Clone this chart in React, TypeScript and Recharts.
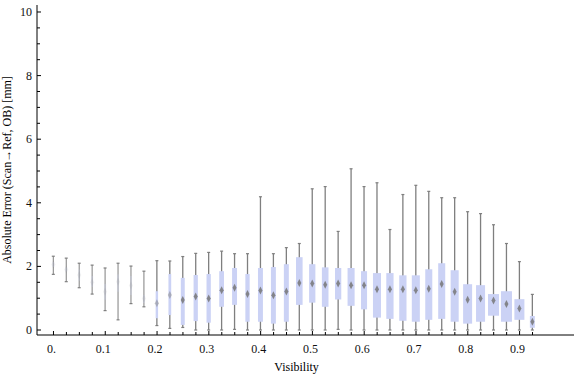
import { ComposedChart, Bar, XAxis, YAxis } from "recharts";

// box-whisker stats per visibility bin (mm)
const visibility = [
  0, 0.025, 0.05, 0.075, 0.1, 0.125, 0.15, 0.175, 0.2, 0.225, 0.25, 0.275, 0.3, 0.325, 0.35, 0.375, 0.4, 0.425, 0.45,
  0.475, 0.5, 0.525, 0.55, 0.575, 0.6, 0.625, 0.65, 0.675, 0.7, 0.725, 0.75, 0.775, 0.8, 0.825, 0.85, 0.875, 0.9, 0.925,
];
const minVals = [
  1.75, 1.52, 1.33, 1.13, 0.61, 0.32, 0.83, 0.73, 0.14, 0.05, 0.08, 0, 0, 0, 0.02, 0, 0, 0, 0, 0, 0, 0, 0.02, 0, 0, 0, 0,
  0, 0, 0, 0, 0, 0, 0, 0, 0, 0, 0,
];
const q1Vals = [
  1.98, 1.84, 1.55, 1.36, 0.95, 1.2, 1.1, 0.85, 0.37, 0.47, 0.16, 0.28, 0.23, 0.73, 0.79, 0.26, 0.26, 0.2, 0.26, 0.79,
  0.86, 0.73, 0.96, 0.76, 0.65, 0.39, 0.35, 0.29, 0.26, 0.32, 0.35, 0.26, 0.2, 0.26, 0.45, 0.26, 0.32, 0.07,
];
const medianVals = [
  2.06, 1.9, 1.73, 1.5, 1.2, 1.52, 1.4, 0.99, 0.84, 1.1, 0.94, 1.05, 0.99, 1.25, 1.33, 1.13, 1.24, 1.09, 1.21, 1.48,
  1.46, 1.42, 1.46, 1.41, 1.41, 1.28, 1.28, 1.28, 1.25, 1.3, 1.45, 1.2, 0.95, 0.99, 0.93, 0.82, 0.68, 0.26,
];
const q3Vals = [
  2.14, 1.97, 1.9, 1.7, 1.45, 1.75, 1.7, 1.1, 1.22, 1.76, 1.64, 1.73, 1.76, 1.85, 1.95, 1.76, 1.95, 1.98, 2.07, 2.29,
  2.07, 1.97, 1.95, 1.95, 1.85, 1.79, 1.79, 1.72, 1.72, 1.91, 2.1, 1.88, 1.44, 1.41, 1.13, 1.22, 0.97, 0.44,
];
const maxVals = [
  2.32, 2.26, 2.1, 2.04, 1.95, 2.1, 2.01, 1.85, 2.18, 2.17, 2.31, 2.41, 2.44, 2.48, 2.4, 2.4, 4.19, 2.4, 2.59, 2.72, 4.44,
  4.51, 3.1, 5.07, 4.51, 4.63, 3.16, 4.26, 4.55, 4.36, 4.16, 4.16, 3.72, 3.66, 3.31, 2.72, 2.15, 1.12,
];
// relative sample weight of each bin (drives box width / opacity)
const weights = [
  0.15, 0.15, 0.15, 0.2, 0.2, 0.2, 0.1, 0.2, 0.22, 0.25, 0.36, 0.39, 0.39, 0.43, 0.45, 0.39, 0.45, 0.45, 0.45, 0.6, 0.57,
  0.6, 0.57, 0.64, 0.55, 0.73, 0.66, 0.66, 0.73, 0.64, 0.64, 0.73, 0.82, 0.82, 1, 1, 0.91, 0.45,
];

const xTickLabels = ["0.", "0.1", "0.2", "0.3", "0.4", "0.5", "0.6", "0.7", "0.8", "0.9"];
const yTickLabels = ["0", "2", "4", "6", "8", "10"];
const yTicks = Array.from({ length: 21 }, (_, i) => i * 0.5);

const data = visibility.map((x, i) => ({
  x,
  lo: minVals[i],
  q1: q1Vals[i],
  med: medianVals[i],
  q3: q3Vals[i],
  hi: maxVals[i],
  w: weights[i],
}));

const FONT = "'Liberation Serif', 'Times New Roman', serif";
const WHISKER = "#7f7f7f";
const BOX = "#cbd2f5";

const BoxShape = (props: any) => {
  const { x, y, width, height, payload } = props;
  if (payload == null) return null;
  const { lo, q1, med, q3, hi, w } = payload;
  const top = Math.min(y, y + height);
  const h = Math.abs(height);
  const py = (v: number) => top + (h * (hi - v)) / (hi - lo);
  const cx = x + width / 2;
  const bw = Math.max(2, w * 11);
  const faint = w < 0.21;
  const medOpacity = faint ? 0.1 : w < 0.3 ? 0.45 : 0.85;
  return (
    <g>
      <line x1={cx} x2={cx} y1={py(hi)} y2={py(lo)} stroke={WHISKER} strokeWidth={faint ? 1 : 1.3} />
      <line x1={cx - 1.5} x2={cx + 1.5} y1={py(hi)} y2={py(hi)} stroke={WHISKER} strokeWidth={1.2} />
      <line x1={cx - 1.5} x2={cx + 1.5} y1={py(lo)} y2={py(lo)} stroke={WHISKER} strokeWidth={1.2} />
      <rect x={cx - bw / 2} y={py(q3)} width={bw} height={py(q1) - py(q3)} fill={BOX} fillOpacity={faint ? 0.25 : 1} />
      <polygon
        points={`${cx},${py(med) - 4} ${cx + 2},${py(med)} ${cx},${py(med) + 4} ${cx - 2},${py(med)}`}
        fill="#777"
        fillOpacity={medOpacity}
      />
    </g>
  );
};

const BottomTick = (props: any) => {
  const { x, y, index } = props;
  const major = index % 4 === 0;
  return (
    <g>
      <line x1={x} x2={x} y1={y} y2={y - (major ? 4 : 3)} stroke="#000" />
      {major && (
        <text x={x - 2} y={y + 18} textAnchor="middle" fontSize={12} fontFamily={FONT} fill="#111">
          {xTickLabels[index / 4]}
        </text>
      )}
    </g>
  );
};

const TopTick = (props: any) => {
  const { x, y } = props;
  return <line x1={x} x2={x} y1={y} y2={y + 3} stroke="#000" />;
};

const LeftTick = (props: any) => {
  const { x, y, payload } = props;
  const v = payload.value;
  const major = v % 2 === 0;
  return (
    <g>
      <line x1={x} x2={x + (major ? 4 : 3)} y1={y} y2={y} stroke="#000" />
      {major && (
        <text x={x - 5} y={y + 4} textAnchor="end" fontSize={12} fontFamily={FONT} fill="#111">
          {yTickLabels[v / 2]}
        </text>
      )}
    </g>
  );
};

const RightTick = (props: any) => {
  const { x, y, payload } = props;
  const major = payload.value % 2 === 0;
  return <line x1={x} x2={x - (major ? 4 : 3)} y1={y} y2={y} stroke="#000" />;
};

export default function App() {
  return (
    <div style={{ position: "absolute", left: 0, top: 0, width: 576, height: 377, background: "#fff" }}>
      <ComposedChart width={576} height={377} data={data} margin={{ top: 5, right: 2, bottom: 0, left: 1 }}>
        <XAxis
          dataKey="x"
          type="category"
          height={42}
          padding={{ left: 10, right: 35 }}
          axisLine={{ stroke: "#000" }}
          tickLine={false}
          tickSize={0}
          tickMargin={0}
          interval={0}
          tick={<BottomTick />}
          label={{ value: "Visibility", position: "insideBottom", offset: 6, dx: -9, fontSize: 12, fontFamily: FONT, fill: "#000" }}
        />
        <XAxis
          xAxisId="top"
          dataKey="x"
          type="category"
          orientation="top"
          height={0}
          padding={{ left: 10, right: 35 }}
          axisLine={{ stroke: "#000" }}
          tickLine={false}
          tickSize={0}
          tickMargin={0}
          interval={0}
          tick={<TopTick />}
        />
        <YAxis
          type="number"
          domain={[-0.157, 10.22]}
          ticks={yTicks}
          interval={0}
          width={36}
          axisLine={{ stroke: "#000" }}
          tickLine={false}
          tickSize={0}
          tickMargin={0}
          tick={<LeftTick />}
          label={{
            value: "Absolute Error (Scan\u2192Ref, OB) [mm]",
            angle: -90,
            position: "insideLeft",
            offset: 6,
            style: { textAnchor: "middle" },
            fontSize: 12,
            fontFamily: FONT,
            fill: "#000",
          }}
        />
        <YAxis
          yAxisId="r"
          orientation="right"
          type="number"
          domain={[-0.157, 10.22]}
          ticks={yTicks}
          interval={0}
          width={0}
          axisLine={{ stroke: "#000" }}
          tickLine={false}
          tickSize={0}
          tickMargin={0}
          tick={<RightTick />}
        />
        <Bar dataKey={(d: any) => [d.lo, d.hi]} shape={<BoxShape />} isAnimationActive={false} />
      </ComposedChart>
    </div>
  );
}
